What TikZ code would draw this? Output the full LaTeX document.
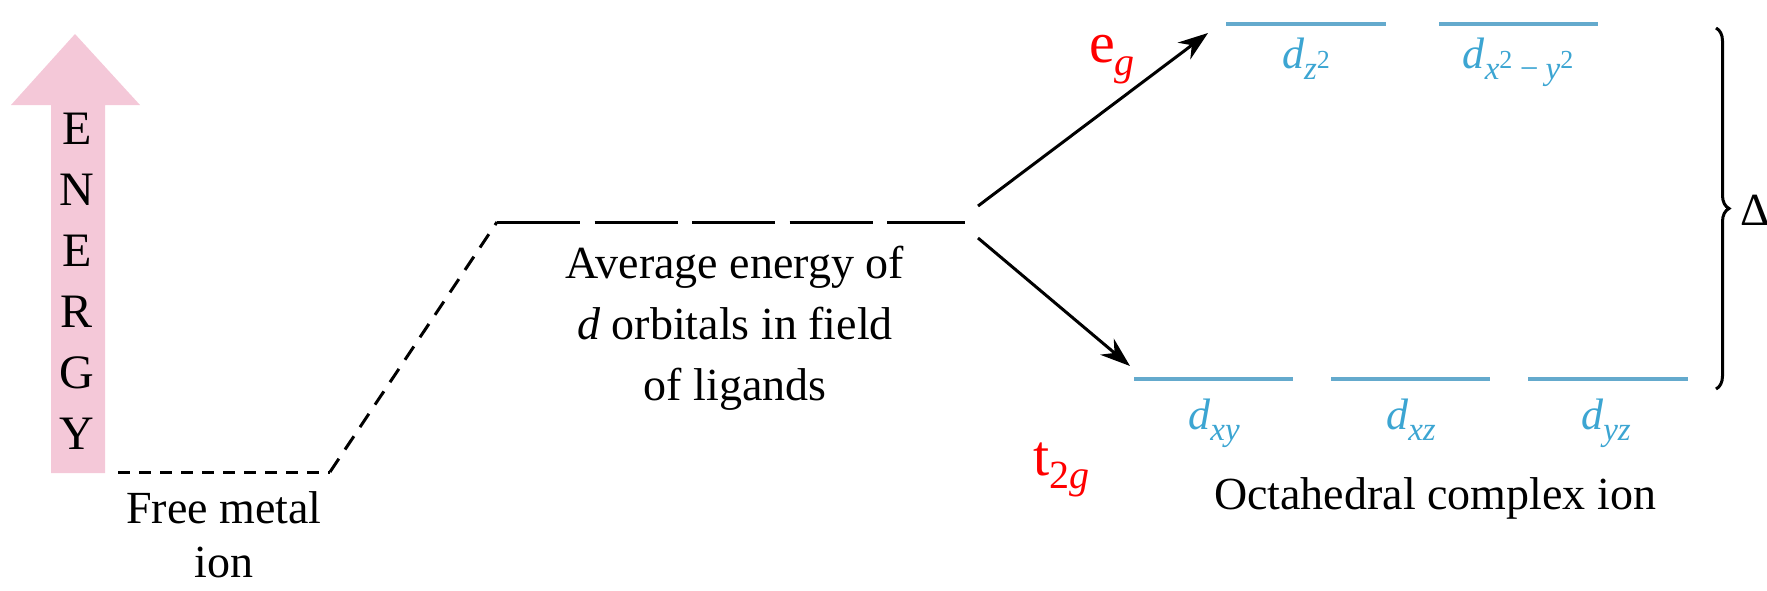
\documentclass[tikz,border=0pt]{standalone}
\usepackage{fontspec}
\setmainfont{Liberation Serif}
\usetikzlibrary{arrows.meta,decorations.pathreplacing}
\definecolor{pinkarrow}{RGB}{244,200,216}
\definecolor{orbline}{RGB}{100,170,205}
\definecolor{orbtext}{RGB}{60,165,210}
\newcommand{\orbl}[1]{\textit{d}\raisebox{-11pt}{\fontsize{33}{33}\selectfont\itshape #1}}
\newcommand{\sq}{\raisebox{11pt}{\fontsize{26}{26}\selectfont\upshape 2}}
\begin{document}
\begin{tikzpicture}[x=1pt,y=-1pt,
  lbl/.style={font=\fontsize{46}{58}\selectfont, align=center, inner sep=0pt},
  letter/.style={font=\fontsize{48}{48}\selectfont, inner sep=0pt},
  orb/.style={line width=4.5pt, draw=orbline},
  orblbl/.style={text=orbtext, font=\fontsize{44}{44}\selectfont, inner sep=0pt, anchor=base},
  redlbl/.style={text=red, font=\fontsize{58}{58}\selectfont, inner sep=0pt, anchor=base west},
  blackline/.style={line width=3pt},
  splitarrow/.style={line width=3pt, -{Stealth[length=30pt,width=21pt]}},
]
\useasboundingbox (0,0) rectangle (1767,590);
% energy arrow
\fill[pinkarrow] (51,473) -- (51,105) -- (11,105) -- (75,34) -- (140,105) -- (105,105) -- (105,473) -- cycle;
\foreach \l [count=\i from 0] in {E,N,E,R,G,Y}
  \node[letter] (en\i) at (77,129+61*\i) {\l};
% levels
\coordinate (fm1) at (118,472);
\coordinate (fm2) at (330,472);
\coordinate (av1) at (497,222);
\coordinate (av2) at (965,222);
\draw[blackline, dash pattern=on 12pt off 9pt] (fm1) -- (fm2);
\draw[blackline, dash pattern=on 16pt off 11pt] (fm2) -- (av1);
\draw[blackline, dash pattern=on 83pt off 14.5pt] (av1) -- (av2);
\node[lbl, font=\fontsize{46}{54}\selectfont] (free) at (224,535) {Free metal\\ion};
\node[lbl, font=\fontsize{46}{61}\selectfont] (avg) at (735,328) {Average energy of\\\textit{d} orbitals in field\\of ligands};
% split arrows
\coordinate (up1) at (978,206);
\coordinate (lo1) at (978,238);
\coordinate (upT) at (1208,33);
\coordinate (loT) at (1130,366);
\draw[splitarrow] (up1) -- (upT);
\draw[splitarrow] (lo1) -- (loT);
% eg levels
\coordinate (eg1a) at (1226,24); \coordinate (eg1b) at (1386,24);
\coordinate (eg2a) at (1439,24); \coordinate (eg2b) at (1598,24);
\draw[orb] (eg1a) -- (eg1b);
\draw[orb] (eg2a) -- (eg2b);
\node[orblbl] (dz2) at (1306,68) {\orbl{z\sq}};
\node[orblbl] (dx2y2) at (1518,68) {\orbl{x\sq\,−\,y\sq}};
% t2g levels
\coordinate (t1a) at (1134,379); \coordinate (t1b) at (1293,379);
\coordinate (t2a) at (1331,379); \coordinate (t2b) at (1490,379);
\coordinate (t3a) at (1528,379); \coordinate (t3b) at (1688,379);
\draw[orb] (t1a) -- (t1b);
\draw[orb] (t2a) -- (t2b);
\draw[orb] (t3a) -- (t3b);
\node[orblbl] (dxy) at (1214,429) {\orbl{xy}};
\node[orblbl] (dxz) at (1411,429) {\orbl{xz}};
\node[orblbl] (dyz) at (1606,429) {\orbl{yz}};
% red labels
\node[redlbl] (eg) at (1089,62) {e\raisebox{-13pt}{\fontsize{40}{40}\selectfont\itshape g}};
\node[redlbl] (t2g) at (1033,475) {t\raisebox{-13pt}{\fontsize{40}{40}\selectfont 2\textit{g}}};
\node[lbl] (oct) at (1435,498) {Octahedral complex ion};
% brace
\coordinate (br1) at (1716,28);
\coordinate (br2) at (1716,389);
\draw[blackline, decorate, decoration={brace, amplitude=13pt}] (br1) -- (br2);
\node[lbl, anchor=west] (delta) at (1740,210) {Δ};
\end{tikzpicture}
\end{document}
